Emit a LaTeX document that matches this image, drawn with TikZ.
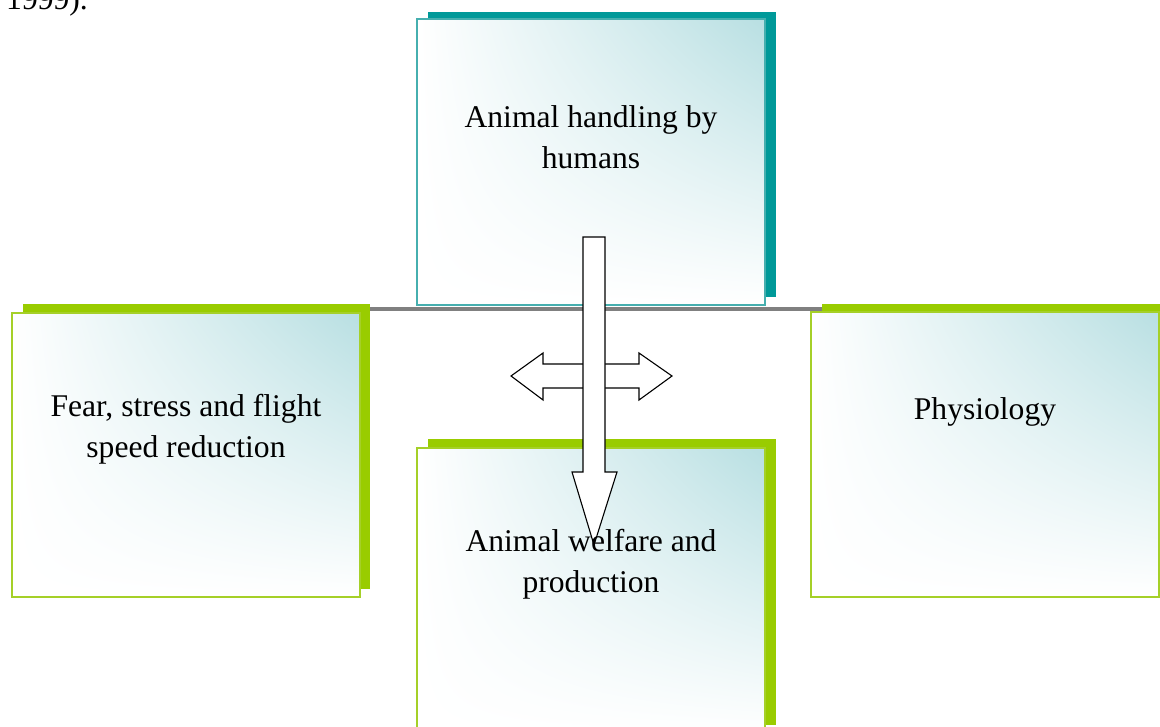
\documentclass[tikz,border=0pt]{standalone}
\usepackage{fontspec}
\setmainfont{Liberation Serif}
\usetikzlibrary{shadings}
\definecolor{tealshadow}{RGB}{0,153,153}
\definecolor{greenshadow}{RGB}{153,204,0}
\definecolor{tealedge}{RGB}{70,175,175}
\definecolor{greenedge}{RGB}{165,208,40}
\definecolor{shadecol}{RGB}{184,223,226}
\definecolor{barcol}{RGB}{128,128,128}
\tikzset{
  lbl/.style={font=\fontsize{31.6}{40.5}\selectfont, align=center, inner sep=0pt},
  face/.style={upper right=shadecol, upper left=white, lower left=white, lower right=white},
  tealbox/.style={draw=tealedge, line width=1.3pt},
  greenbox/.style={draw=greenedge, line width=1.3pt},
  blockarrow/.style={draw=black, fill=white, line width=1.1pt, line join=miter}
}
\begin{document}
\begin{tikzpicture}[x=1pt,y=-1pt]
\useasboundingbox (0,0) rectangle (1160,727);
% clipped text from the page above
\node[lbl, anchor=base west] (yr) at (6,10) {1999).};
% gray connecting bar
\fill[barcol] (360,307) rectangle (822,311);
% top box
\fill[tealshadow] (428,12) rectangle (776,297);
\shade[face] (417,19) rectangle (765,305);
\draw[tealbox] (417,19) rectangle (765,305);
% left box
\fill[greenshadow] (23,304) rectangle (370,589);
\shade[face] (12,313) rectangle (360,597);
\draw[greenbox] (12,313) rectangle (360,597);
% right box
\fill[greenshadow] (822,304) rectangle (1175,589);
\shade[face] (811,312) rectangle (1159,597);
\draw[greenbox] (811,312) rectangle (1159,597);
% bottom box
\fill[greenshadow] (428,439) rectangle (776,725);
\shade[face] (417,448) rectangle (765,734);
\draw[greenbox] (417,448) rectangle (765,734);
% labels
\node[lbl] (handling) at (591,137) {Animal handling by\\humans};
\node[lbl] (fear) at (186,429) {Fear, stress and flight\\speed reduction};
\node[lbl, anchor=base] (physio) at (985,420) {Physiology};
% arrows
\draw[blockarrow] (511,376) -- (543,353) -- (543,364) -- (639,364) -- (639,353) -- (672,376) -- (639,400) -- (639,388) -- (543,388) -- (543,400) -- cycle;
\draw[blockarrow] (583,237) -- (605,237) -- (605,472) -- (617,472) -- (594,545) -- (572,472) -- (583,472) -- cycle;
\node[lbl] (welfare) at (591,564) {Animal welfare and\\production};
\end{tikzpicture}
\end{document}
